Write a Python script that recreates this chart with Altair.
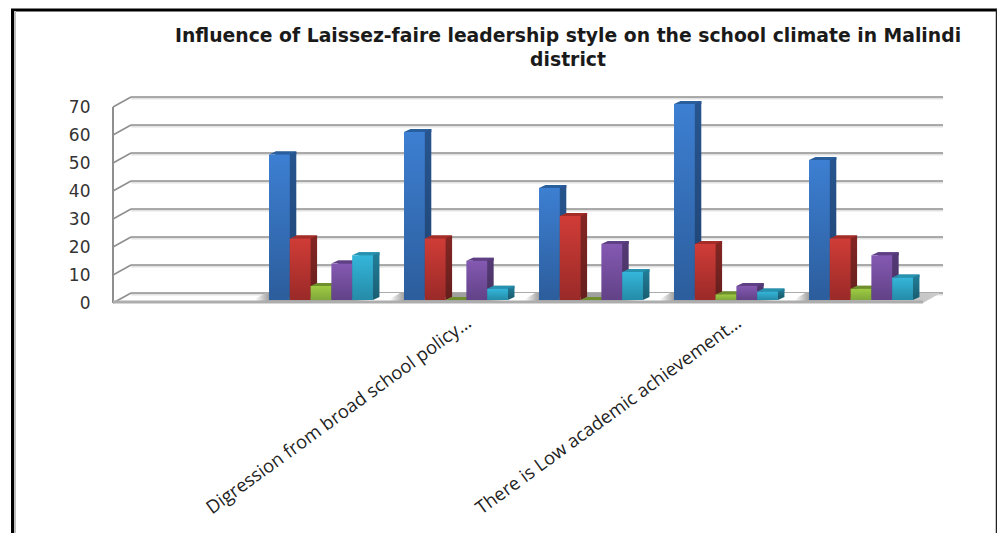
import altair as alt
import pandas as pd

# Chart content
title_lines = ["Influence of Laissez-faire leadership style on the school climate in Malindi", "district"]
x_labels = {2.5: "Digression from broad school policy…", 4.5: "There is Low academic achievement…"}
group_slots = [1, 2, 3, 4, 5]
series_names = ["Series 1", "Series 2", "Series 3", "Series 4", "Series 5"]
series_1 = [52, 60, 40, 70, 50]
series_2 = [22, 22, 30, 20, 22]
series_3 = [5, 0, 0, 2, 4]
series_4 = [13, 14, 20, 5, 16]
series_5 = [16, 4, 10, 3, 8]
y_ticks = [0, 10, 20, 30, 40, 50, 60, 70]

# Colour per series: front top, front bottom, side top, side bottom, top face
palette = {
    "Series 1": ("#3d7fd2", "#2c5d9c", "#28558f", "#1f4372", "#2a5f9e"),
    "Series 2": ("#d03c37", "#9a2a28", "#842623", "#661f1d", "#a62c28"),
    "Series 3": ("#9ecb43", "#7fa83a", "#66862c", "#5a7628", "#6f8f2e"),
    "Series 4": ("#8459b2", "#624287", "#553a78", "#48325f", "#5f4085"),
    "Series 5": ("#34b6da", "#258ba8", "#227f9a", "#1a6074", "#2792b0"),
}

GRID = "#8f8f8f"
W, H = 810, 196
DX, DY = 6.5, 3
HALF = 10.4
PIXEL_SIZE = 4  # custom symbol paths draw at 1 unit = 1 px with this size
BAR_WIDTH = 0.154    # in category widths
GROUP_INSET = 0.1556

values = [series_1, series_2, series_3, series_4, series_5]
rows = []
for si, (s, col) in enumerate(zip(series_names, values)):
    for slot, v in zip(group_slots, col):
        start = slot + GROUP_INSET + si * BAR_WIDTH
        rows.append({"series": s, "value": v, "zero": 0, "start": start,
                     "end": start + BAR_WIDTH, "mid": start + BAR_WIDTH / 2})
df = pd.DataFrame(rows)
tick_df = pd.DataFrame({"tick": y_ticks})
floor_df = pd.DataFrame({"center": [s + 0.5 for s in group_slots], "zero": 0})
one_row = tick_df.head(1)


def vgrad(top, bottom):
    return alt.LinearGradient(
        gradient="linear", x1=0, y1=0, x2=0, y2=1,
        stops=[alt.GradientStop(color=top, offset=0), alt.GradientStop(color=bottom, offset=1)],
    )


def hgrad(stops):
    return alt.LinearGradient(
        gradient="linear", x1=0, y1=0, x2=1, y2=0,
        stops=[alt.GradientStop(color=c, offset=o) for o, c in stops],
    )


label_expr = " : ".join(f"datum.value === {k} ? '{v}'" for k, v in x_labels.items()) + " : ''"
x_axis = alt.Axis(
    values=list(x_labels), labelExpr=label_expr, title=None, domain=False, ticks=False, labelAngle=324,
    labelAlign="right", labelBaseline="middle", labelFont="Open Sans", labelFontSize=18.4,
    labelColor="#222222", labelOffset=18, labelPadding=20, labelLimit=500, grid=False, labelOverlap=False,
)
y_axis = alt.Axis(
    values=y_ticks, title=None, domain=False, ticks=False, grid=False, labelFont="DejaVu Sans",
    labelFontSize=17, labelColor="#333333", labelPadding=23, labelOffset=3,
)
x_scale = alt.Scale(domain=[0, 6], nice=False, zero=False)
y_scale = alt.Scale(domain=[0, 70], nice=False)


def xq(field):
    return alt.X(f"{field}:Q", scale=x_scale, axis=x_axis)


def yq(field):
    return alt.Y(f"{field}:Q", scale=y_scale, axis=y_axis, stack=None)


layers = []

# Back wall gridlines with their soft shadow
layers.append(
    alt.Chart(tick_df).mark_rule(color="#e2e2e2", strokeWidth=2, yOffset=-5.5)
    .encode(x=alt.value(18), x2=alt.value(830), y=yq("tick"))
)
layers.append(
    alt.Chart(tick_df).mark_rule(color=GRID, strokeWidth=1.6, yOffset=-7)
    .encode(x=alt.value(18), x2=alt.value(830), y=yq("tick"))
)

# Left wall: front edge and the slanted tick connectors
layers.append(
    alt.Chart(tick_df).mark_point(shape="M0,3 L18,-7", size=PIXEL_SIZE, stroke=GRID, strokeWidth=1.6, filled=False, opacity=1)
    .encode(x=alt.value(0), y=yq("tick"))
)
layers.append(
    alt.Chart(one_row).mark_rule(color=GRID, strokeWidth=2)
    .encode(x=alt.value(0), y=alt.value(3), y2=alt.value(199))
)

# Floor patches between the bar groups
floor_path = "M-68,3 L67.5,3 L85,-7 L-50,-7Z"
mid_fill = hgrad([(0, "#ffffff"), (0.05, "#ffffff"), (0.14, "#a0a0a0"), (0.7, "#a0a0a0"), (0.8, "#ffffff"), (1, "#ffffff")])
end_fill = hgrad([(0, "#ffffff"), (0.05, "#ffffff"), (0.14, "#a0a0a0"), (0.7, "#c0c0c0"), (1, "#cccccc")])
for frame_df, fill in ((floor_df.iloc[:4], mid_fill), (floor_df.iloc[4:], end_fill)):
    layers.append(
        alt.Chart(frame_df)
        .mark_point(shape=floor_path, size=PIXEL_SIZE, fill=fill, filled=True, strokeWidth=0, opacity=1)
        .encode(x=xq("center"), y=yq("zero"))
    )

# Front edge of the floor
layers.append(
    alt.Chart(one_row).mark_rule(color="#adadad", strokeWidth=3)
    .encode(x=alt.value(0), x2=alt.value(810), y=alt.value(198))
)

# Extruded bars, one series at a time so later fronts cover earlier sides
for name in series_names:
    c_top, c_bot, s_top, s_bot, c_face = palette[name]
    base = alt.Chart(df).transform_filter(alt.datum.series == name)
    base_pos = base.transform_filter(alt.datum.value > 0)
    layers.append(
        base.mark_bar(fill=vgrad(s_top, s_bot), xOffset=DX, x2Offset=DX, yOffset=-DY, y2Offset=-DY, strokeWidth=0)
        .encode(x=xq("start"), x2="end:Q", y=yq("value"), y2="zero:Q")
    )
    layers.append(
        base_pos.mark_point(shape=f"M{HALF},0 L{HALF + DX},-{DY} L{HALF},-{DY}Z", size=PIXEL_SIZE, fill=s_bot, filled=True, strokeWidth=0, opacity=1)
        .encode(x=xq("mid"), y=yq("zero"))
    )
    layers.append(
        base_pos.mark_point(shape=f"M{HALF},0 L{HALF + DX},-{DY} L{HALF + DX},0Z", size=PIXEL_SIZE, fill=s_top, filled=True, strokeWidth=0, opacity=1)
        .encode(x=xq("mid"), y=yq("value"))
    )
    layers.append(
        base.mark_point(shape=f"M-{HALF},0 L{HALF},0 L{HALF + DX},-{DY} L{DX - HALF},-{DY}Z", size=PIXEL_SIZE, fill=c_face, filled=True, strokeWidth=0, opacity=1)
        .encode(x=xq("mid"), y=yq("value"))
    )
    layers.append(
        base.mark_bar(fill=vgrad(c_top, c_bot), strokeWidth=0)
        .encode(x=xq("start"), x2="end:Q", y=yq("value"), y2="zero:Q")
    )

# Page frame around the figure
layers.append(alt.Chart(one_row).mark_rule(color="#000000", strokeWidth=3).encode(x=alt.value(-102), x2=alt.value(884), y=alt.value(-94)))
layers.append(alt.Chart(one_row).mark_rule(color="#000000", strokeWidth=3).encode(x=alt.value(-100.5), y=alt.value(-95), y2=alt.value(429)))
layers.append(alt.Chart(one_row).mark_rule(color="#bdbdbd", strokeWidth=2).encode(x=alt.value(-98), y=alt.value(-93), y2=alt.value(429)))
layers.append(alt.Chart(one_row).mark_rule(color="#222222", strokeWidth=1.5).encode(x=alt.value(883.5), y=alt.value(-95), y2=alt.value(429)))

chart = (
    alt.layer(*layers)
    .properties(
        width=W,
        height=H,
        autosize=alt.AutoSizeParams(type="none"),
        padding={"left": 113, "top": 104, "right": 74, "bottom": 233},
        background="#ffffff",
        title=alt.TitleParams(
            text=title_lines, anchor="middle", frame="group", dx=50, offset=-62, font="DejaVu Sans",
            fontWeight="bold", fontSize=18.8, lineHeight=24, color="#1a1a1a",
        ),
    )
    .configure_view(stroke=None)
)

chart.save("out.html", embed_options={"renderer": "svg", "actions": False})
